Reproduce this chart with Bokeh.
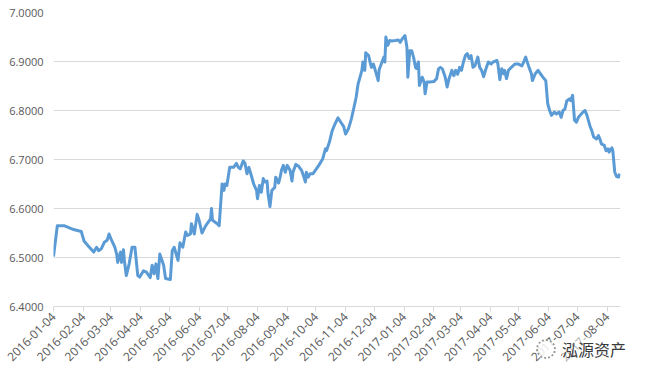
import math
import pandas as pd
from bokeh.plotting import figure
from bokeh.layouts import column
from bokeh.models import ColumnDataSource, FixedTicker, DatetimeTickFormatter, Range1d, PrintfTickFormatter, Div
from bokeh.embed import file_html
from bokeh.resources import INLINE

dates = [
    "2016-01-04", "2016-01-08", "2016-01-15", "2016-01-25",
    "2016-02-02", "2016-02-05", "2016-02-10", "2016-02-15", "2016-02-18", "2016-02-20", "2016-02-23", "2016-02-26", "2016-02-29",
    "2016-03-02", "2016-03-04", "2016-03-08", "2016-03-10", "2016-03-11", "2016-03-14", "2016-03-15", "2016-03-17", "2016-03-18", "2016-03-20", "2016-03-23", "2016-03-26", "2016-03-29",
    "2016-04-01", "2016-04-03", "2016-04-07", "2016-04-10", "2016-04-14", "2016-04-16", "2016-04-18", "2016-04-20", "2016-04-22", "2016-04-24", "2016-04-28", "2016-04-30",
    "2016-05-05", "2016-05-07", "2016-05-09", "2016-05-13", "2016-05-15", "2016-05-18", "2016-05-21", "2016-05-23", "2016-05-26", "2016-05-27", "2016-05-30",
    "2016-06-02", "2016-06-04", "2016-06-07", "2016-06-11", "2016-06-16", "2016-06-17", "2016-06-18", "2016-06-23", "2016-06-25", "2016-06-26", "2016-06-28", "2016-06-30",
    "2016-07-01", "2016-07-03", "2016-07-06", "2016-07-10", "2016-07-13", "2016-07-15", "2016-07-17", "2016-07-20", "2016-07-22", "2016-07-24", "2016-07-26", "2016-07-28", "2016-07-31",
    "2016-08-03", "2016-08-04", "2016-08-06", "2016-08-08", "2016-08-10", "2016-08-12", "2016-08-14", "2016-08-15", "2016-08-17", "2016-08-19", "2016-08-22", "2016-08-23", "2016-08-26", "2016-08-28", "2016-08-29", "2016-08-31",
    "2016-09-02", "2016-09-04", "2016-09-07", "2016-09-09", "2016-09-10", "2016-09-13", "2016-09-16", "2016-09-19", "2016-09-21", "2016-09-23", "2016-09-24", "2016-09-26", "2016-09-28",
    "2016-10-01", "2016-10-07", "2016-10-11", "2016-10-14", "2016-10-15", "2016-10-18", "2016-10-21", "2016-10-24", "2016-10-27", "2016-10-30",
    "2016-11-02", "2016-11-04", "2016-11-07", "2016-11-10", "2016-11-12", "2016-11-15", "2016-11-17", "2016-11-21", "2016-11-22", "2016-11-24", "2016-11-25", "2016-11-28", "2016-11-30",
    "2016-12-01", "2016-12-03", "2016-12-05", "2016-12-08", "2016-12-09", "2016-12-12", "2016-12-14", "2016-12-15", "2016-12-16", "2016-12-18", "2016-12-20", "2016-12-22", "2016-12-26", "2016-12-29", "2016-12-31",
    "2017-01-02", "2017-01-05", "2017-01-07", "2017-01-08", "2017-01-10", "2017-01-12", "2017-01-14", "2017-01-16", "2017-01-17", "2017-01-19", "2017-01-20", "2017-01-23", "2017-01-25", "2017-01-26", "2017-01-28", "2017-01-31",
    "2017-02-04", "2017-02-07", "2017-02-09", "2017-02-11", "2017-02-13", "2017-02-16", "2017-02-18", "2017-02-20", "2017-02-23", "2017-02-25", "2017-02-27",
    "2017-03-01", "2017-03-03", "2017-03-05", "2017-03-07", "2017-03-09", "2017-03-11", "2017-03-13", "2017-03-15", "2017-03-17", "2017-03-19", "2017-03-22", "2017-03-24", "2017-03-26", "2017-03-28", "2017-03-31",
    "2017-04-02", "2017-04-05", "2017-04-07", "2017-04-11", "2017-04-12", "2017-04-14", "2017-04-16", "2017-04-18", "2017-04-19", "2017-04-21", "2017-04-23", "2017-04-26", "2017-04-30",
    "2017-05-03", "2017-05-07", "2017-05-09", "2017-05-11", "2017-05-14", "2017-05-17", "2017-05-18", "2017-05-21", "2017-05-24", "2017-05-26", "2017-05-29",
    "2017-06-01", "2017-06-03", "2017-06-05", "2017-06-07", "2017-06-10", "2017-06-12", "2017-06-15", "2017-06-17", "2017-06-19", "2017-06-21", "2017-06-23", "2017-06-26", "2017-06-27", "2017-06-29",
    "2017-07-01", "2017-07-03", "2017-07-05", "2017-07-08", "2017-07-10", "2017-07-12", "2017-07-14", "2017-07-17", "2017-07-19", "2017-07-21", "2017-07-24", "2017-07-26", "2017-07-28", "2017-07-29",
    "2017-08-01", "2017-08-03", "2017-08-05", "2017-08-06", "2017-08-09", "2017-08-10", "2017-08-12", "2017-08-14", "2017-08-16", "2017-08-17",
]

rates = [
    6.502, 6.565, 6.565, 6.557,
    6.553, 6.533, 6.522, 6.511, 6.521, 6.514, 6.518, 6.531, 6.535,
    6.548, 6.538, 6.521, 6.507, 6.490, 6.511, 6.490, 6.516, 6.494, 6.463, 6.487, 6.521, 6.521,
    6.463, 6.460, 6.473, 6.470, 6.459, 6.484, 6.467, 6.487, 6.457, 6.507, 6.484, 6.457,
    6.455, 6.514, 6.521, 6.494, 6.530, 6.521, 6.552, 6.545, 6.548, 6.569, 6.548,
    6.588, 6.576, 6.550, 6.565, 6.579, 6.600, 6.576, 6.569, 6.565, 6.594, 6.650, 6.637,
    6.650, 6.647, 6.684, 6.684, 6.692, 6.684, 6.681, 6.697, 6.692, 6.671, 6.684, 6.671, 6.650,
    6.637, 6.620, 6.647, 6.633, 6.661, 6.654, 6.656, 6.630, 6.604, 6.637, 6.643, 6.664, 6.652, 6.667, 6.678, 6.688,
    6.674, 6.688, 6.678, 6.656, 6.674, 6.690, 6.686, 6.678, 6.667, 6.654, 6.674, 6.664, 6.671,
    6.671, 6.688, 6.701, 6.722, 6.718, 6.735, 6.759, 6.773, 6.785, 6.776,
    6.767, 6.752, 6.763, 6.783, 6.800, 6.827, 6.854, 6.882, 6.899, 6.882, 6.918, 6.912, 6.895,
    6.888, 6.895, 6.882, 6.861, 6.883, 6.899, 6.909, 6.899, 6.950, 6.933, 6.943, 6.942, 6.943, 6.944, 6.939,
    6.946, 6.953, 6.929, 6.868, 6.922, 6.922, 6.908, 6.888, 6.886, 6.899, 6.851, 6.868, 6.858, 6.834, 6.858, 6.858,
    6.859, 6.865, 6.885, 6.888, 6.885, 6.868, 6.848, 6.865, 6.882, 6.871, 6.882,
    6.874, 6.888, 6.882, 6.899, 6.912, 6.916, 6.906, 6.912, 6.888, 6.891, 6.909, 6.888, 6.882, 6.869, 6.888,
    6.899, 6.895, 6.899, 6.902, 6.895, 6.863, 6.885, 6.875, 6.882, 6.865, 6.882, 6.888, 6.895,
    6.895, 6.891, 6.899, 6.909, 6.891, 6.875, 6.861, 6.875, 6.882, 6.876, 6.868,
    6.861, 6.814, 6.800, 6.790, 6.797, 6.793, 6.797, 6.786, 6.800, 6.803, 6.820, 6.824, 6.820, 6.831,
    6.780, 6.776, 6.786, 6.793, 6.797, 6.800, 6.790, 6.769, 6.759, 6.746, 6.742, 6.749, 6.739, 6.732,
    6.729, 6.718, 6.722, 6.715, 6.724, 6.718, 6.674, 6.665, 6.664, 6.671,
]

tick_dates = [
    "2016-01-04", "2016-02-04", "2016-03-04", "2016-04-04", "2016-05-04", "2016-06-04", "2016-07-04",
    "2016-08-04", "2016-09-04", "2016-10-04", "2016-11-04", "2016-12-04", "2017-01-04", "2017-02-04",
    "2017-03-04", "2017-04-04", "2017-05-04", "2017-06-04", "2017-07-04", "2017-08-04",
]
y_ticks = [6.4, 6.5, 6.6, 6.7, 6.8, 6.9, 7.0]
x_start = "2016-01-04"
x_end = "2017-08-18"
watermark = "泓源资产"

n = min(len(dates), len(rates))
src = ColumnDataSource(dict(x=pd.to_datetime(dates[:n]), y=rates[:n]))

def to_ms(s):
    return (pd.Timestamp(s) - pd.Timestamp("1970-01-01")) // pd.Timedelta(milliseconds=1)

p = figure(width=645, height=375, x_axis_type="datetime", output_backend="svg", toolbar_location=None,
           x_range=Range1d(pd.Timestamp(x_start), pd.Timestamp(x_end)),
           y_range=Range1d(y_ticks[0], y_ticks[-1]),
           min_border_left=53, min_border_right=25, min_border_top=12, min_border_bottom=69)
p.outline_line_color = None
p.background_fill_color = "white"
p.border_fill_color = "white"

p.line("x", "y", source=src, line_color="#5B9BD5", line_width=3, line_join="round")

font = "Open Sans"
lab_color = "#595959"

p.xaxis.ticker = FixedTicker(ticks=[to_ms(t) for t in tick_dates])
p.xaxis.formatter = DatetimeTickFormatter(days="%Y-%m-%d", months="%Y-%m-%d", years="%Y-%m-%d",
                                          hours="%Y-%m-%d", minutes="%Y-%m-%d", seconds="%Y-%m-%d")
p.xaxis.major_label_orientation = math.pi / 4
p.xaxis.axis_line_color = "#d9d9d9"
p.xaxis.major_tick_line_color = "#d9d9d9"
p.xaxis.major_tick_out = 5
p.xaxis.major_tick_in = 0
p.xaxis.minor_tick_line_color = None
p.xaxis.major_label_standoff = 3
p.xaxis.major_label_text_font = font
p.xaxis.major_label_text_font_size = "12px"
p.xaxis.major_label_text_color = lab_color

p.yaxis.ticker = FixedTicker(ticks=y_ticks)
p.yaxis.formatter = PrintfTickFormatter(format="%.4f")
p.yaxis.axis_line_color = None
p.yaxis.major_tick_line_color = None
p.yaxis.minor_tick_line_color = None
p.yaxis.major_tick_out = 0
p.yaxis.major_tick_in = 0
p.yaxis.major_label_standoff = 10
p.yaxis.major_label_text_font = font
p.yaxis.major_label_text_font_size = "11px"
p.yaxis.major_label_text_color = lab_color

p.xgrid.grid_line_color = None
p.ygrid.grid_line_color = "#d9d9d9"
p.ygrid.grid_line_width = 1

icon = ('<span style="display:inline-block;width:20px;height:20px;border:2px dotted #9a9a9a;'
        'border-radius:50%;vertical-align:middle;margin-right:6px;background:rgba(255,255,255,0.85)"></span>')
wm = Div(text=icon + '<span style="vertical-align:middle;background:rgba(255,255,255,0.55)">' + watermark + '</span>',
         styles={
             "position": "absolute", "left": "531px", "top": "329px", "z-index": "10",
             "font-family": "'Noto Sans CJK SC'", "font-size": "16px", "color": "#3a3a3a",
             "line-height": "24px", "white-space": "nowrap",
         })

page = column(p, wm)

open("out.html", "w").write(file_html(page, INLINE))
